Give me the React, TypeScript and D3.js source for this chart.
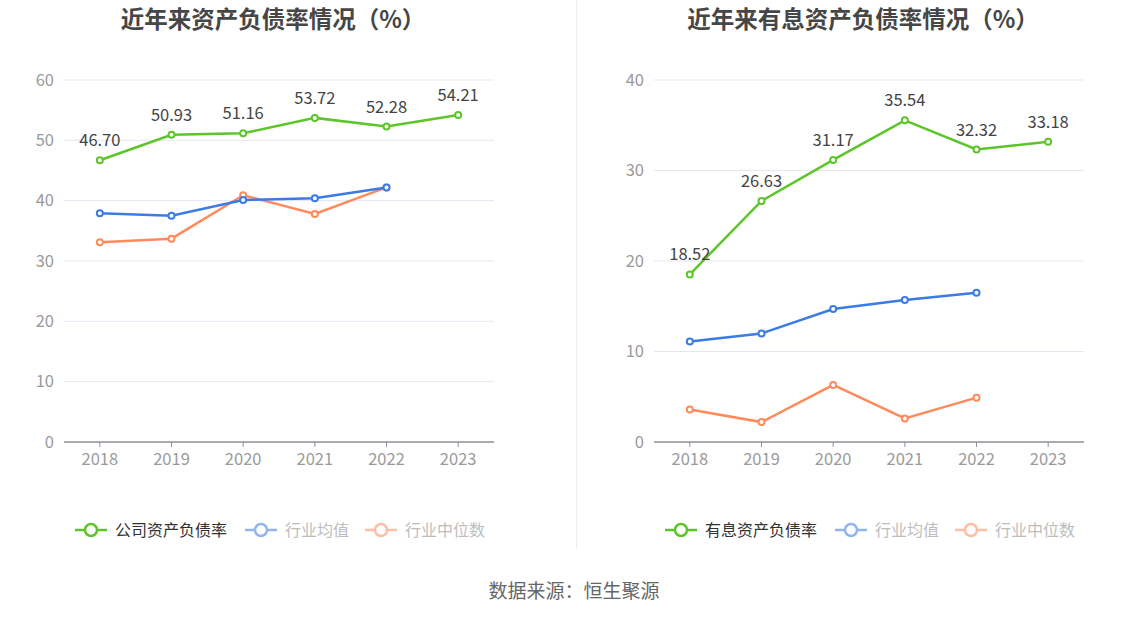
import * as d3 from 'd3'
import React, { useEffect } from 'react'

const years = ['2018', '2019', '2020', '2021', '2022', '2023']

// 左图：资产负债率
const companyDebt = [46.7, 50.93, 51.16, 53.72, 52.28, 54.21]
const industryAvgDebt = [37.9, 37.5, 40.1, 40.4, 42.2]
const industryMedDebt = [33.1, 33.7, 40.9, 37.8, 42.2]
const debtTicks = [0, 10, 20, 30, 40, 50, 60]

// 右图：有息资产负债率
const companyInterest = [18.52, 26.63, 31.17, 35.54, 32.32, 33.18]
const industryAvgInterest = [11.1, 12.0, 14.7, 15.7, 16.5]
const industryMedInterest = [3.6, 2.2, 6.3, 2.6, 4.9]
const interestTicks = [0, 10, 20, 30, 40]

const GREEN = '#5cc52a'
const BLUE = '#3b7be6'
const ORANGE = '#ff8a5c'
const FONT = '"Noto Sans CJK SC", "Noto Sans", sans-serif'

const top = 80
const bottom = 442

const Panel = ({ x0, title, mainName, main, avg, med, ticks }) => {
  const left = x0 + 64
  const right = x0 + 494
  const x = d3.scaleBand().domain(years).range([left, right])
  const y = d3.scaleLinear().domain([0, ticks[ticks.length - 1]]).range([bottom, top])
  const cx = (i) => x(years[i]) + x.bandwidth() / 2
  const line = d3
    .line<number>()
    .x((d, i) => cx(i))
    .y((d) => y(d))

  const series = [
    { data: med, color: ORANGE },
    { data: avg, color: BLUE },
    { data: main, color: GREEN },
  ]

  const legend = [
    { name: mainName, color: GREEN, x: x0 + 75, faded: false },
    { name: '行业均值', color: BLUE, x: x0 + 245, faded: true },
    { name: '行业中位数', color: ORANGE, x: x0 + 365, faded: true },
  ]

  return (
    <g>
      <text
        x={x0 + 273}
        y={28}
        textAnchor="middle"
        fontSize={23.5}
        fontWeight="bold"
        fill="#464646"
        fontFamily={FONT}
      >
        {title}
      </text>
      {ticks.map((t) => (
        <g key={t}>
          {t > 0 && <line x1={left} x2={right} y1={y(t)} y2={y(t)} stroke="#e3e7f1" strokeWidth={1} />}
          <text
            x={left - 10}
            y={y(t) + 5.5}
            textAnchor="end"
            fontSize={16.5}
            fill="#9a9a9a"
            fontFamily={FONT}
          >
            {t}
          </text>
        </g>
      ))}
      <line x1={left} x2={right} y1={bottom} y2={bottom} stroke="#8c8f96" strokeWidth={1.5} />
      {years.map((yr, i) => (
        <g key={yr}>
          <line x1={cx(i)} x2={cx(i)} y1={bottom} y2={bottom + 5} stroke="#8c8f96" strokeWidth={1} />
          <text x={cx(i)} y={bottom + 23} textAnchor="middle" fontSize={16.5} fill="#9a9a9a" fontFamily={FONT}>
            {yr}
          </text>
        </g>
      ))}
      {series.map((s, k) => (
        <g key={k}>
          <path d={line(s.data)} fill="none" stroke={s.color} strokeWidth={2.5} />
          {s.data.map((v, i) => (
            <circle key={i} cx={cx(i)} cy={y(v)} r={3} fill="#fff" stroke={s.color} strokeWidth={2} />
          ))}
        </g>
      ))}
      {main.map((v, i) => (
        <text
          key={i}
          x={cx(i)}
          y={y(v) - 14}
          textAnchor="middle"
          fontSize={16.5}
          fill="#444"
          fontFamily={FONT}
        >
          {v.toFixed(2)}
        </text>
      ))}
      {legend.map((l) => (
        <g key={l.name} opacity={l.faded ? 0.55 : 1}>
          <line x1={l.x} x2={l.x + 32} y1={530} y2={530} stroke={l.color} strokeWidth={2.5} />
          <circle cx={l.x + 16} cy={530} r={6} fill="#fff" stroke={l.color} strokeWidth={2.5} />
          <text
            x={l.x + 40}
            y={535.5}
            fontSize={16}
            fill={l.faded ? '#888' : '#333'}
            fontFamily={FONT}
          >
            {l.name}
          </text>
        </g>
      ))}
    </g>
  )
}

export default function App() {
  useEffect(() => {
    document.body.style.margin = '0'
  }, [])
  return (
    <svg width={1148} height={619} style={{ display: 'block', background: '#fff' }}>
      <line x1={576.5} x2={576.5} y1={0} y2={549} stroke="#eeeeee" strokeWidth={1} />
      <Panel
        x0={0}
        title="近年来资产负债率情况（%）"
        mainName="公司资产负债率"
        main={companyDebt}
        avg={industryAvgDebt}
        med={industryMedDebt}
        ticks={debtTicks}
      />
      <Panel
        x0={590}
        title="近年来有息资产负债率情况（%）"
        mainName="有息资产负债率"
        main={companyInterest}
        avg={industryAvgInterest}
        med={industryMedInterest}
        ticks={interestTicks}
      />
      <text x={574} y={598} textAnchor="middle" fontSize={19} fill="#666" fontFamily={FONT}>
        数据来源：恒生聚源
      </text>
    </svg>
  )
}
